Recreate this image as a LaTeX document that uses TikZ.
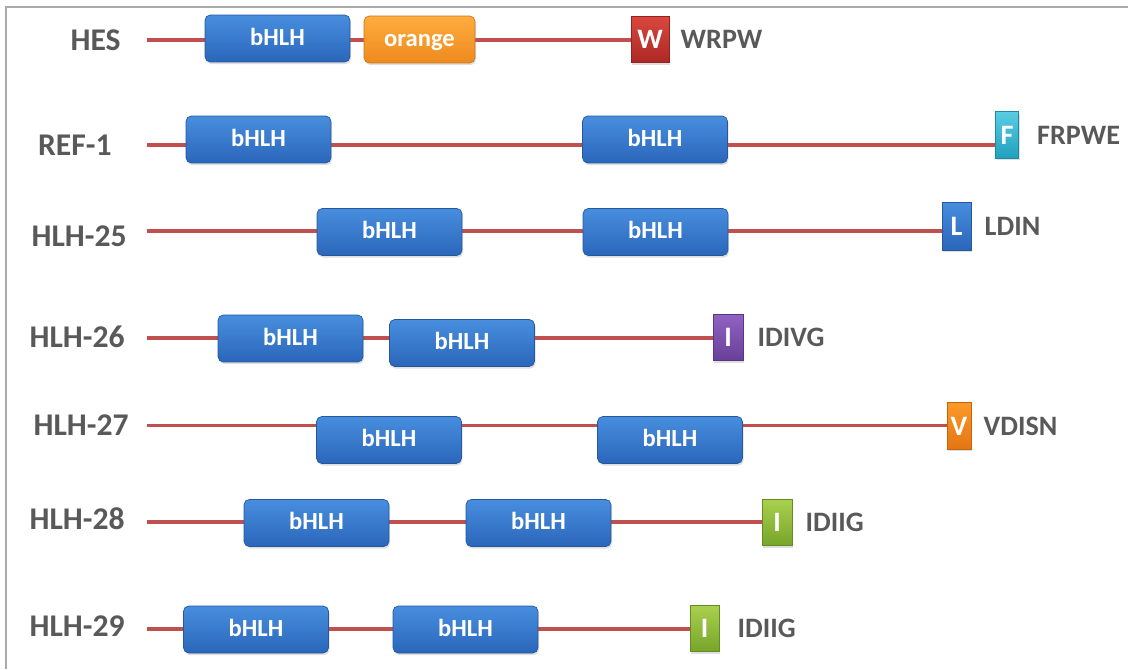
\documentclass[tikz,border=0pt]{standalone}
\usepackage{fontspec}
\setmainfont{Carlito}
\usetikzlibrary{positioning,backgrounds,shadows}

\definecolor{linered}{RGB}{192,80,77}
\definecolor{labgray}{RGB}{89,89,89}
\definecolor{framegray}{RGB}{170,170,170}
\definecolor{bluetop}{RGB}{72,142,222}
\definecolor{bluebot}{RGB}{42,102,186}
\definecolor{orangetop}{RGB}{255,172,62}
\definecolor{orangebot}{RGB}{238,138,30}
\definecolor{redtop}{RGB}{218,72,62}
\definecolor{redbot}{RGB}{172,40,36}
\definecolor{cyantop}{RGB}{88,205,228}
\definecolor{cyanbot}{RGB}{34,160,190}
\definecolor{purptop}{RGB}{145,98,195}
\definecolor{purpbot}{RGB}{104,64,152}
\definecolor{greentop}{RGB}{170,208,78}
\definecolor{greenbot}{RGB}{118,165,42}
\definecolor{vtop}{RGB}{252,152,40}
\definecolor{vbot}{RGB}{228,118,18}

\begin{document}
\begin{tikzpicture}[x=0.02cm,y=-0.02cm,
    chain/.style={draw=linered,line width=2.2pt},
    prot/.style={anchor=east,inner sep=0pt,text=labgray,font=\bfseries\fontsize{18}{20}\selectfont},
    mlab/.style={inner sep=0pt,text=labgray,font=\bfseries\fontsize{16}{18}\selectfont},
    bhlh/.style={rounded corners=3pt,draw=bluebot!85!black,line width=0.4pt,
      top color=bluetop,bottom color=bluebot,minimum width=2.9cm,minimum height=0.94cm,
      inner sep=0pt,text height=0.74em,text depth=0pt,text=white,
      font=\bfseries\fontsize{14}{16}\selectfont,
      drop shadow={opacity=0.25,shadow xshift=0.6pt,shadow yshift=-1.2pt}},
    orangebox/.style={bhlh,top color=orangetop,bottom color=orangebot,draw=orangebot!85!black},
    motif/.style={draw=#1bot!85!black,line width=0.4pt,top color=#1top,bottom color=#1bot,
      minimum height=0.93cm,inner sep=0pt,text=white,font=\bfseries\fontsize{16}{18}\selectfont,
      drop shadow={opacity=0.25,shadow xshift=0.6pt,shadow yshift=-1.2pt}}]

  \useasboundingbox (0,0) rectangle (1128,669);
  \draw[framegray,line width=1.2pt] (6,669) -- (6,7) -- (1128,7);

  % HES
  \node[prot] (hes) at (121,40) {HES};
  \coordinate (hes0) at (147,40);
  \node[bhlh] (hesb) at (277.5,38.5) {bHLH};
  \node[orangebox,minimum width=2.22cm] (heso) at (419.5,39.5) {orange};
  \node[motif=red,minimum width=0.76cm] (hesw) at (650,39.5) {W};
  \node[mlab,right=0.22cm of hesw] (hesm) {WRPW};

  % REF-1
  \node[prot] (ref) at (112,145) {REF-1};
  \coordinate (ref0) at (147,145);
  \node[bhlh] (refb1) at (258.5,139.5) {bHLH};
  \node[bhlh] (refb2) at (655,139.5) {bHLH};
  \node[motif=cyan,minimum width=0.46cm] (reff) at (1007,135) {F};
  \node[mlab,right=0.36cm of reff] (refm) {FRPWE};

  % HLH-25
  \node[prot] (h25) at (127,236) {HLH-25};
  \coordinate (h250) at (147,231);
  \node[bhlh] (h25b1) at (389.5,232) {bHLH};
  \node[bhlh] (h25b2) at (655.5,232) {bHLH};
  \node[motif=blue,minimum width=0.58cm,minimum height=0.96cm] (h25l) at (956.5,226) {L};
  \node[mlab,right=0.26cm of h25l] (h25m) {LDIN};

  % HLH-26
  \node[prot] (h26) at (125,337) {HLH-26};
  \coordinate (h260) at (147,338);
  \node[bhlh] (h26b1) at (290.5,338.5) {bHLH};
  \node[bhlh] (h26b2) at (462,343) {bHLH};
  \node[motif=purp,minimum width=0.6cm] (h26i) at (728,337.5) {I};
  \node[mlab,right=0.28cm of h26i] (h26m) {IDIVG};

  % HLH-27
  \node[prot] (h27) at (129,425) {HLH-27};
  \coordinate (h270) at (147,425.5);
  \node[bhlh] (h27b1) at (389,440) {bHLH};
  \node[bhlh] (h27b2) at (670,440) {bHLH};
  \node[motif=v,minimum width=0.48cm] (h27v) at (959,426) {V};
  \node[mlab,right=0.24cm of h27v] (h27m) {VDISN};

  % HLH-28
  \node[prot] (h28) at (125,519) {HLH-28};
  \coordinate (h280) at (147,522);
  \node[bhlh] (h28b1) at (316.5,523) {bHLH};
  \node[bhlh] (h28b2) at (538.5,523) {bHLH};
  \node[motif=green,minimum width=0.6cm] (h28i) at (777,522.5) {I};
  \node[mlab,right=0.26cm of h28i] (h28m) {IDIIG};

  % HLH-29
  \node[prot] (h29) at (125,626) {HLH-29};
  \coordinate (h290) at (147,629);
  \node[bhlh] (h29b1) at (256,629.5) {bHLH};
  \node[bhlh] (h29b2) at (465.5,629.5) {bHLH};
  \node[motif=green,minimum width=0.58cm] (h29i) at (704.5,628.5) {I};
  \node[mlab,right=0.36cm of h29i] (h29m) {IDIIG};

  \begin{scope}[on background layer]
    \draw[chain] (hes0) -- (hes0 -| hesw.west);
    \draw[chain] (ref0) -- (ref0 -| reff.west);
    \draw[chain] (h250) -- (h250 -| h25l.west);
    \draw[chain] (h260) -- (h260 -| h26i.west);
    \draw[chain] (h270) -- (h270 -| h27v.west);
    \draw[chain] (h280) -- (h280 -| h28i.west);
    \draw[chain] (h290) -- (h290 -| h29i.west);
  \end{scope}
\end{tikzpicture}
\end{document}
